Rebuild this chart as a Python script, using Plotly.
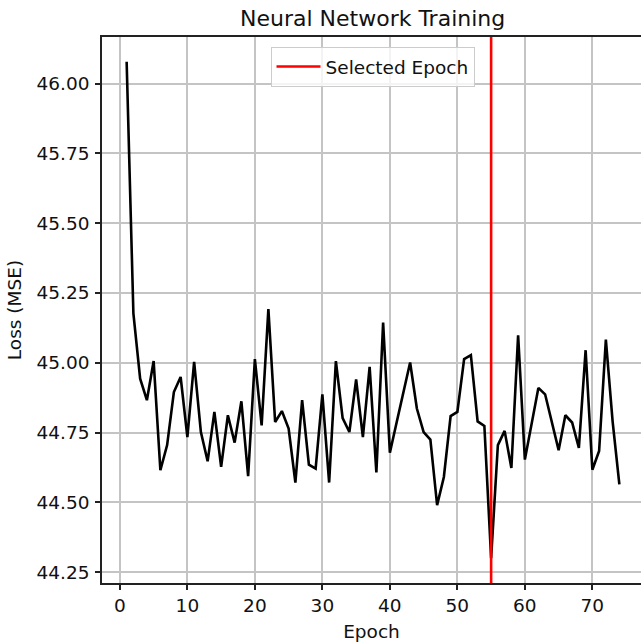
import plotly.graph_objects as go

# Training loss per epoch
epochs = list(range(1, 75))
loss = [
    46.078, 45.177, 44.943, 44.866, 45.006, 44.615, 44.705, 44.895, 44.949, 44.734,
    45.003, 44.752, 44.647, 44.824, 44.627, 44.812, 44.714, 44.862, 44.594, 45.013,
    44.776, 45.192, 44.788, 44.827, 44.764, 44.571, 44.866, 44.635, 44.621, 44.887,
    44.571, 45.006, 44.802, 44.752, 44.940, 44.734, 44.985, 44.607, 45.144, 44.678,
    44.786, 44.893, 45.001, 44.836, 44.752, 44.725, 44.490, 44.591, 44.809, 44.824,
    45.013, 45.027, 44.790, 44.774, 44.300, 44.705, 44.756, 44.623, 45.098, 44.653,
    44.782, 44.910, 44.887, 44.788, 44.687, 44.812, 44.786, 44.695, 45.045, 44.617,
    44.684, 45.083, 44.790, 44.564,
]
selected_epoch = 55
x_ticks = [0, 10, 20, 30, 40, 50, 60, 70]
y_ticks = [44.25, 44.50, 44.75, 45.00, 45.25, 45.50, 45.75, 46.00]

FONT = "DejaVu Sans"
W, H = 641, 643
ML, MT, MB = 102, 37, 60

# axis limits with 5% padding around the data
x_pad = 0.05 * (max(epochs) - min(epochs))
x_lo, x_hi = min(epochs) - x_pad, max(epochs) + x_pad
y_pad = 0.05 * (max(loss) - min(loss))
y_lo, y_hi = min(loss) - y_pad, max(loss) + y_pad

# the axes box runs slightly past the right edge of the page
full_px = 542.0
shown_px = W - ML
x_hi_shown = x_lo + (x_hi - x_lo) * shown_px / full_px
x_center = (372.5 - ML) / shown_px

fig = go.Figure()
fig.add_trace(go.Scatter(
    x=epochs, y=loss, mode="lines",
    line=dict(color="black", width=2.6),
    showlegend=False, hoverinfo="x+y",
))
fig.add_trace(go.Scatter(
    x=[selected_epoch, selected_epoch], y=[y_lo, y_hi], mode="lines",
    line=dict(color="red", width=2.6),
    name="Selected Epoch", showlegend=True,
))

axis_common = dict(
    showgrid=True, gridcolor="#c4c4c4", gridwidth=1.5,
    showline=True, linecolor="#222222", linewidth=1.5,
    ticks="outside", ticklen=5, tickwidth=1.5, tickcolor="#222222",
    tickfont=dict(family=FONT, size=18.5, color="#111111"),
    zeroline=False,
)

fig.update_layout(
    width=W, height=H,
    margin=dict(l=ML, r=0, t=MT, b=MB),
    paper_bgcolor="white", plot_bgcolor="white",
    font=dict(family=FONT, color="#111111"),
    xaxis=dict(
        range=[x_lo, x_hi_shown], tickvals=x_ticks, mirror=True,
        title=dict(text="Epoch", font=dict(family=FONT, size=18.5), standoff=10),
        **axis_common,
    ),
    yaxis=dict(
        range=[y_lo, y_hi], tickvals=y_ticks, tickformat=".2f",
        ticklabelstandoff=2,
        title=dict(text="Loss (MSE)", font=dict(family=FONT, size=18.5), standoff=10),
        **axis_common,
    ),
    legend=dict(
        x=x_center, xanchor="center", xref="paper",
        y=1 - 10 / (H - MT - MB), yanchor="top",
        itemwidth=44,
        bgcolor="rgba(255,255,255,0.8)", bordercolor="#cccccc", borderwidth=1,
        font=dict(family=FONT, size=18.5, color="#111111"),
    ),
    annotations=[dict(
        text="Neural Network Training", xref="paper", yref="paper",
        x=x_center, y=1, xanchor="center", yanchor="bottom",
        yshift=4, showarrow=False,
        font=dict(family=FONT, size=22, color="#111111"),
    )],
    showlegend=True,
)

fig.write_html("out.html")
